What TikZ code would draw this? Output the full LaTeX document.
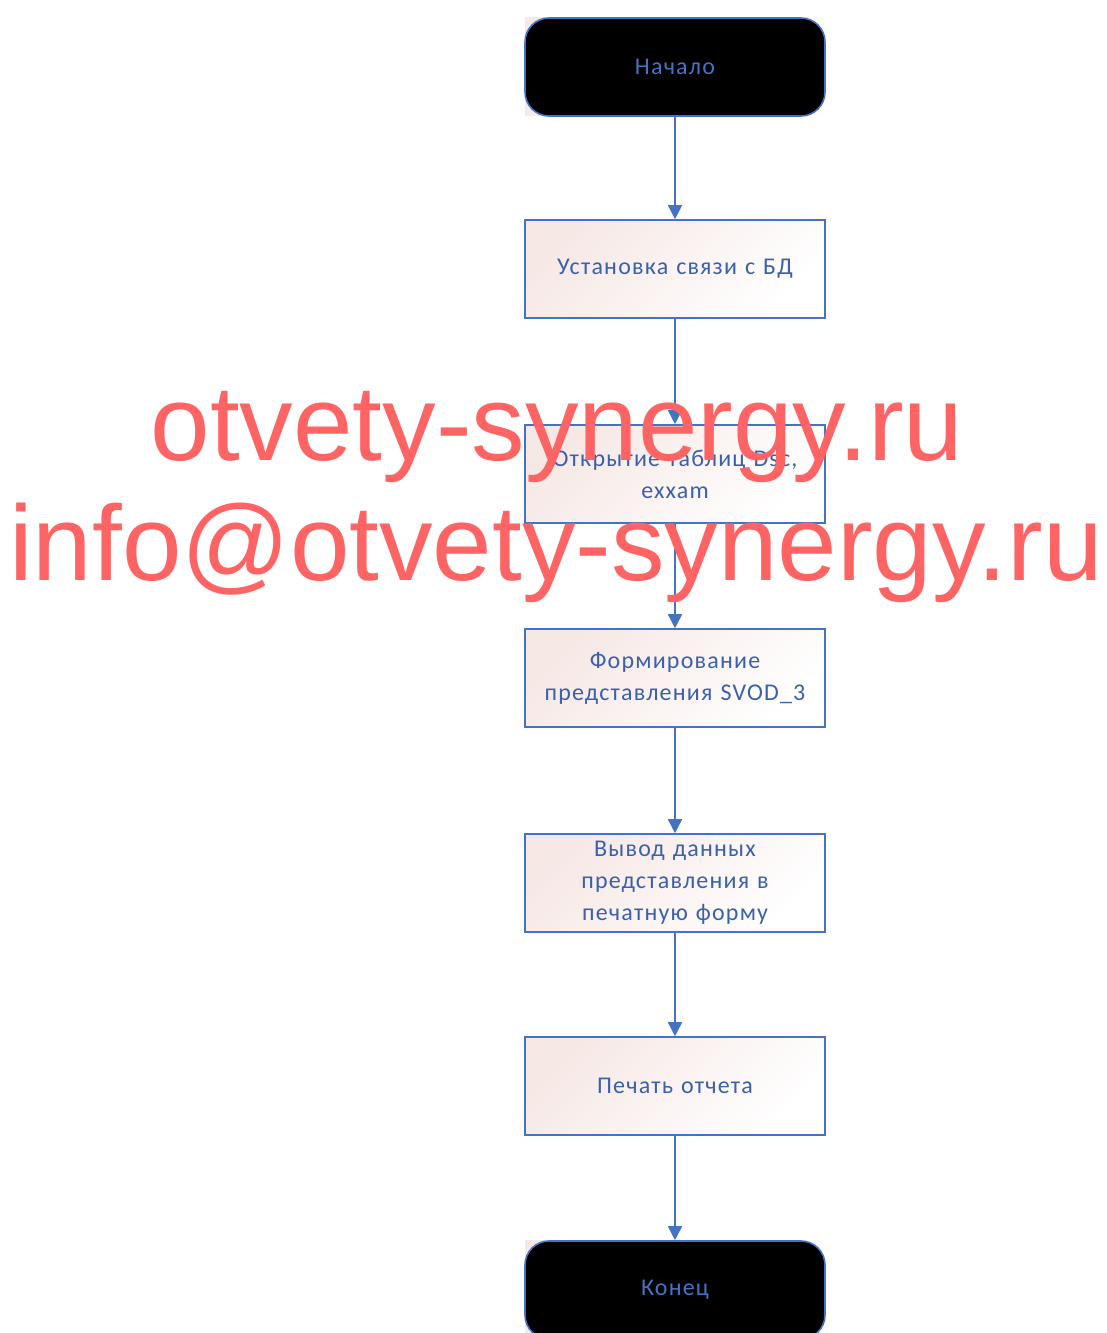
\documentclass[tikz,border=0pt]{standalone}
\usepackage{fontspec}
\setmainfont{Carlito}
\newfontfamily\boxfont[LetterSpace=5]{Carlito}
\newfontfamily\wmfont{Liberation Sans}
\usetikzlibrary{arrows.meta,shadings}
\definecolor{lineblue}{RGB}{68,114,196}
\definecolor{textblue}{RGB}{59,96,172}
\definecolor{paleink}{RGB}{246,232,229}
\definecolor{wmred}{RGB}{255,100,100}
\tikzset{
  stepbox/.style={draw=lineblue, line width=1.6pt, minimum width=300pt, minimum height=98pt,
    inner sep=0pt, text width=298pt, align=center, text=textblue,
    font=\boxfont\fontsize{24}{32}\selectfont,
    shading=axis, left color=paleink, right color=white, shading angle=45},
  termbox/.style={draw=lineblue, line width=1.6pt, fill=black, rounded corners=24pt,
    minimum width=300pt, minimum height=98pt, inner sep=0pt, text=lineblue,
    font=\boxfont\fontsize{24}{32}\selectfont},
  flow/.style={draw=lineblue, line width=1.6pt, -{Triangle[width=14pt,length=14pt]}},
  wm/.style={text=wmred, font=\wmfont\fontsize{107}{110}\selectfont, anchor=base, inner sep=0pt}
}
\begin{document}
\begin{tikzpicture}[x=1pt,y=-1pt]
\useasboundingbox (0,0) rectangle (1107,1333);
% pale backgrounds behind terminals
\shade[left color=paleink, right color=white, shading angle=45] (525,17) rectangle (825,115);
\shade[left color=paleink, right color=white, shading angle=45] (525,1240) rectangle (825,1338);
\node[termbox] (start) at (675,67) {Начало};
\node[stepbox] (b1) at (675,269) {Установка связи с БД};
\node[stepbox] (b2) at (675,474) {Открытие таблиц Dsc,\\ exxam};
\node[stepbox] (b3) at (675,678) {Формирование\\ представления SVOD\_3};
\node[stepbox] (b4) at (675,883) {Вывод данных\\ представления в\\ печатную форму};
\node[stepbox] (b5) at (675,1086) {Печать отчета};
\node[termbox] (end) at (675,1290) {Конец};
\draw[flow] (start.south) -- (b1.north);
\draw[flow] (b1.south) -- (b2.north);
\draw[flow] (b2.south) -- (b3.north);
\draw[flow] (b3.south) -- (b4.north);
\draw[flow] (b4.south) -- (b5.north);
\draw[flow] (b5.south) -- (end.north);
\node[wm] (wm1) at (557,460) {otvety-synergy.ru};
\node[wm] (wm2) at (556,580) {info@otvety-synergy.ru};
\end{tikzpicture}
\end{document}
